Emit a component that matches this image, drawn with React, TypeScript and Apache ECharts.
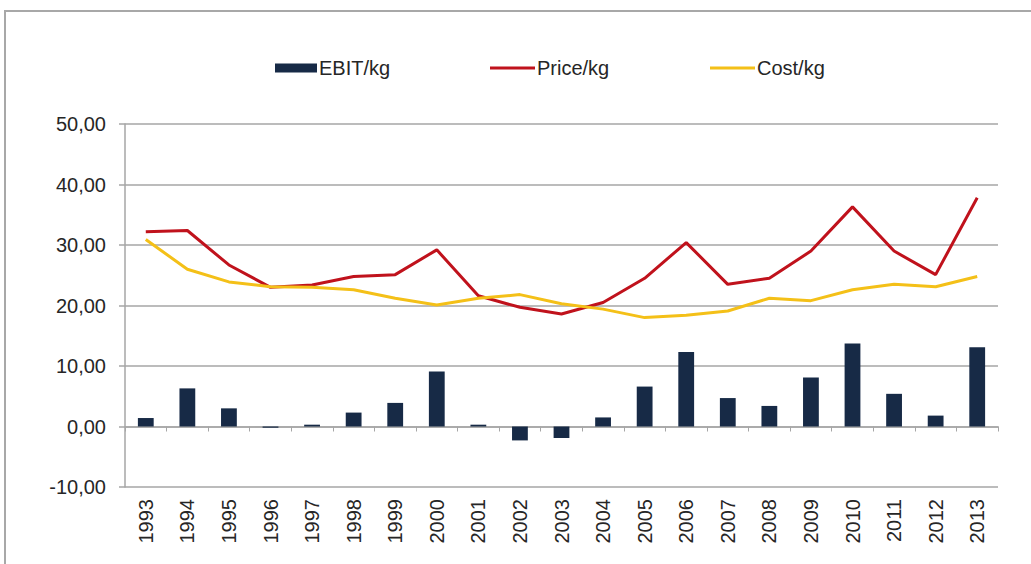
import React, { useEffect, useRef } from "react";
import * as echarts from "echarts";

// Yearly figures per kg
const years = [
  "1993", "1994", "1995", "1996", "1997", "1998", "1999", "2000", "2001", "2002", "2003",
  "2004", "2005", "2006", "2007", "2008", "2009", "2010", "2011", "2012", "2013",
];
const ebitPerKg = [1.4, 6.3, 3.0, -0.2, 0.3, 2.3, 3.9, 9.1, 0.3, -2.3, -1.9, 1.5, 6.6, 12.3, 4.7, 3.4, 8.1, 13.7, 5.4, 1.8, 13.1];
const pricePerKg = [32.2, 32.4, 26.7, 23.0, 23.4, 24.8, 25.1, 29.2, 21.6, 19.7, 18.6, 20.5, 24.5, 30.4, 23.5, 24.5, 29.0, 36.3, 29.0, 25.1, 37.8];
const costPerKg = [30.9, 26.0, 23.9, 23.1, 23.0, 22.6, 21.2, 20.1, 21.2, 21.8, 20.3, 19.4, 18.0, 18.4, 19.1, 21.2, 20.8, 22.6, 23.5, 23.1, 24.8];

const FONT = "'Liberation Sans', Arial, sans-serif";
const GRID_GRAY = "#a6a6a6";
const TEXT = "#262626";
const NAVY = "#172a46";
const RED = "#c0121c";
const GOLD = "#f4c018";

const legendText = { fontFamily: FONT, fontSize: 20, color: TEXT, padding: [0, 0, 0, -3] };

export default function App() {
  const ref = useRef<HTMLDivElement>(null);

  useEffect(() => {
    if (!ref.current) return;
    const chart = echarts.init(ref.current, undefined, { renderer: "svg" });
    chart.setOption({
      animation: false,
      backgroundColor: "#ffffff",
      textStyle: { fontFamily: FONT },
      graphic: [
        {
          type: "rect",
          shape: { x: 5, y: 11, width: 1100, height: 700 },
          style: { fill: "none", stroke: "#a8a8a8", lineWidth: 2 },
          silent: true,
        },
      ],
      legend: [
        {
          left: 270,
          top: 53,
          itemWidth: 42,
          itemHeight: 9,
          icon: "rect",
          textStyle: legendText,
          data: ["EBIT/kg"],
        },
        {
          left: 485,
          top: 53,
          itemWidth: 45,
          itemHeight: 3,
          icon: "rect",
          textStyle: legendText,
          data: ["Price/kg"],
        },
        {
          left: 705,
          top: 53,
          itemWidth: 45,
          itemHeight: 3,
          icon: "rect",
          textStyle: legendText,
          data: ["Cost/kg"],
        },
      ],
      grid: { left: 125, right: 33, top: 124, bottom: 77, containLabel: false },
      xAxis: [
        {
          type: "category",
          data: years,
          position: "bottom",
          axisLine: { show: false, onZero: false },
          axisTick: { show: false },
          axisLabel: {
            rotate: 90,
            margin: 12,
            fontSize: 20,
            fontFamily: FONT,
            color: TEXT,
            interval: 0,
          },
          splitLine: { show: false },
        },
        {
          type: "category",
          data: years,
          position: "bottom",
          axisLine: { show: true, onZero: true, lineStyle: { color: GRID_GRAY, width: 1.5 } },
          axisTick: { show: true, length: 5, lineStyle: { color: GRID_GRAY, width: 1 } },
          axisLabel: { show: false },
          splitLine: { show: false },
        },
      ],
      yAxis: {
        type: "value",
        min: -10,
        max: 50,
        interval: 10,
        axisLine: { show: true, lineStyle: { color: GRID_GRAY, width: 1.5 } },
        axisTick: { show: true, length: 6, lineStyle: { color: GRID_GRAY, width: 1.5 } },
        axisLabel: {
          margin: 19,
          fontSize: 20,
          fontFamily: FONT,
          color: TEXT,
          formatter: (v: number) => v.toFixed(2).replace(".", ","),
        },
        splitLine: { show: true, lineStyle: { color: GRID_GRAY, width: 1.5 } },
      },
      series: [
        {
          name: "EBIT/kg",
          type: "bar",
          data: ebitPerKg,
          barWidth: "38%",
          itemStyle: { color: NAVY },
        },
        {
          name: "Price/kg",
          type: "line",
          data: pricePerKg,
          symbol: "none",
          lineStyle: { color: RED, width: 3 },
          itemStyle: { color: RED },
        },
        {
          name: "Cost/kg",
          type: "line",
          data: costPerKg,
          symbol: "none",
          lineStyle: { color: GOLD, width: 3 },
          itemStyle: { color: GOLD },
        },
      ],
    });
    return () => chart.dispose();
  }, []);

  return (
    <div
      ref={ref}
      style={{ position: "fixed", left: 0, top: 0, width: 1031, height: 564 }}
    />
  );
}
